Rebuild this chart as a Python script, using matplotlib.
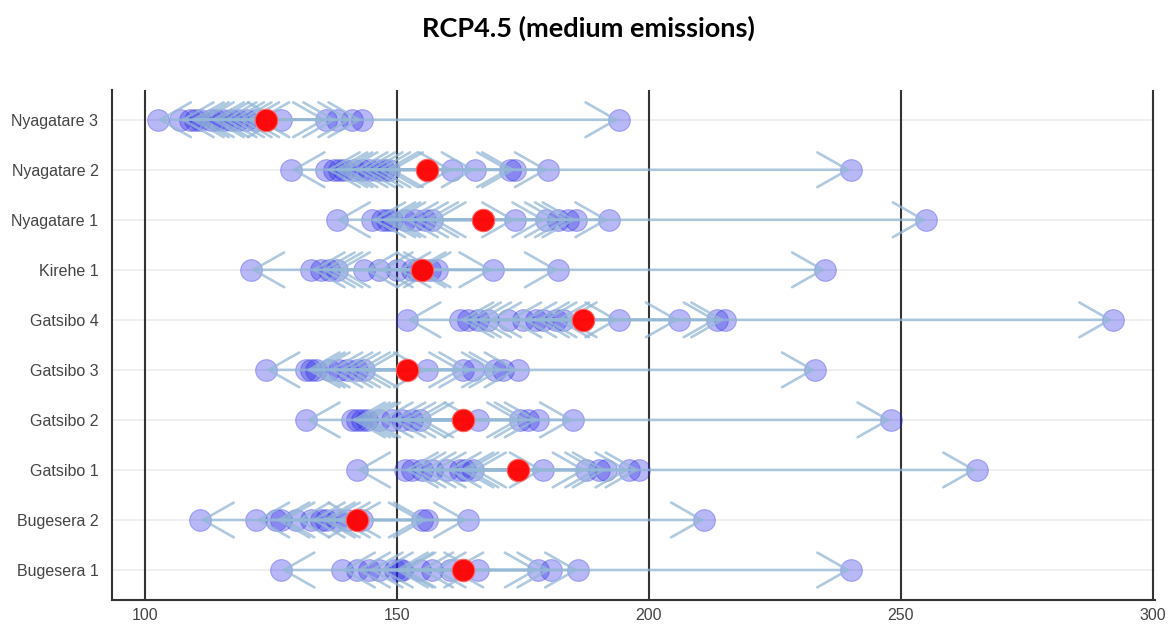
import matplotlib.pyplot as plt

# sites, bottom to top
sites = ["Bugesera 1", "Bugesera 2", "Gatsibo 1", "Gatsibo 2", "Gatsibo 3",
         "Gatsibo 4", "Kirehe 1", "Nyagatare 1", "Nyagatare 2", "Nyagatare 3"]

# ensemble mean (red) per site
means = [163, 142, 174, 163, 152, 187, 155, 167, 156, 124]

# individual model projections (blue) per site
bugesera_1 = [127, 139, 142, 144.5, 146.5, 149.5, 150.5, 151, 154.5, 157, 160.5, 166, 178, 180.5, 186, 240]
bugesera_2 = [111, 122, 126, 127, 130, 133, 135, 136, 138, 140, 143, 155, 156, 164, 211]
gatsibo_1 = [142, 151.5, 153, 155, 157, 160, 162.5, 163.5, 165, 179, 187.5, 190, 191.5, 196, 198, 265]
gatsibo_2 = [132, 141, 142, 143, 144, 146.5, 149, 151, 153, 154.5, 166, 174.5, 176, 178, 185, 248]
gatsibo_3 = [124, 132, 133, 134, 136.5, 138.5, 140, 142, 143.5, 156, 163, 165, 169.5, 171, 174, 233]
gatsibo_4 = [152, 162.5, 164, 166, 168, 172, 175, 177.5, 179, 181.5, 183, 194, 206, 213.5, 215, 292]
kirehe_1 = [121, 133, 135, 136.5, 138, 143.5, 146.5, 150, 153, 154, 156.5, 158, 169, 182, 235]
nyagatare_1 = [138, 145, 147, 148, 149, 151.5, 153.5, 155.5, 157, 173.5, 179.5, 182, 184, 185.5, 192, 255]
nyagatare_2 = [129, 136, 137.5, 138.5, 139.5, 141.5, 143, 144.5, 146, 147.5, 148.5, 161, 165.5, 172.5, 173.5, 180, 240]
nyagatare_3 = [102.5, 107, 109, 110, 111, 113, 114, 115.5, 117, 118.5, 120, 122, 127, 136, 138, 141, 143, 194]

models = [bugesera_1, bugesera_2, gatsibo_1, gatsibo_2, gatsibo_3,
          gatsibo_4, kirehe_1, nyagatare_1, nyagatare_2, nyagatare_3]

xticks = [100, 150, 200, 250, 300]

fig = plt.figure(figsize=(11.76, 6.3), dpi=100)
ax = fig.add_axes([0.0955, 0.0476, 0.887, 0.81])

for i, (vals, m) in enumerate(zip(models, means)):
    ax.scatter(vals, [i] * len(vals), s=245, color="#2424e6", alpha=0.32,
               edgecolors="#2424e6", linewidths=0.8, zorder=3)
    for v in vals:
        ax.annotate("", xy=(v, i), xytext=(m, i),
                    arrowprops=dict(arrowstyle="->,head_length=2.2,head_width=1.25",
                                    mutation_scale=10, color="#94b8d6", lw=1.9,
                                    alpha=0.75, shrinkA=0, shrinkB=0),
                    zorder=4)
    ax.scatter([m], [i], s=260, color="#ff0000", alpha=0.95,
               edgecolors="#ff6060", linewidths=0.8, zorder=5)

for i in range(len(sites)):
    ax.axhline(i, color="#ececec", lw=1.2, zorder=1)
for x in xticks:
    ax.axvline(x, color="#333333", lw=1.5, zorder=2)

ax.set_xlim(93.5, 300.5)
ax.set_ylim(-0.6, 9.6)
ax.set_xticks(xticks)
ax.set_yticks(range(len(sites)))
ax.set_yticklabels(sites)
ax.tick_params(length=0, labelsize=11.5, labelcolor="#444444")
ax.tick_params(axis="x", pad=6)
ax.tick_params(axis="y", pad=10)
for lab in ax.get_xticklabels() + ax.get_yticklabels():
    lab.set_family("Liberation Sans")

for s in ["top", "right"]:
    ax.spines[s].set_visible(False)
ax.spines["left"].set_color("#333333")
ax.spines["bottom"].set_color("#333333")
ax.spines["left"].set_linewidth(1.5)
ax.spines["bottom"].set_linewidth(1.5)

fig.text(0.5, 0.955, "RCP4.5 (medium emissions)", ha="center", va="center",
         fontsize=19.5, fontweight="bold", family="Lato")

fig.savefig("out.png", dpi=100)
